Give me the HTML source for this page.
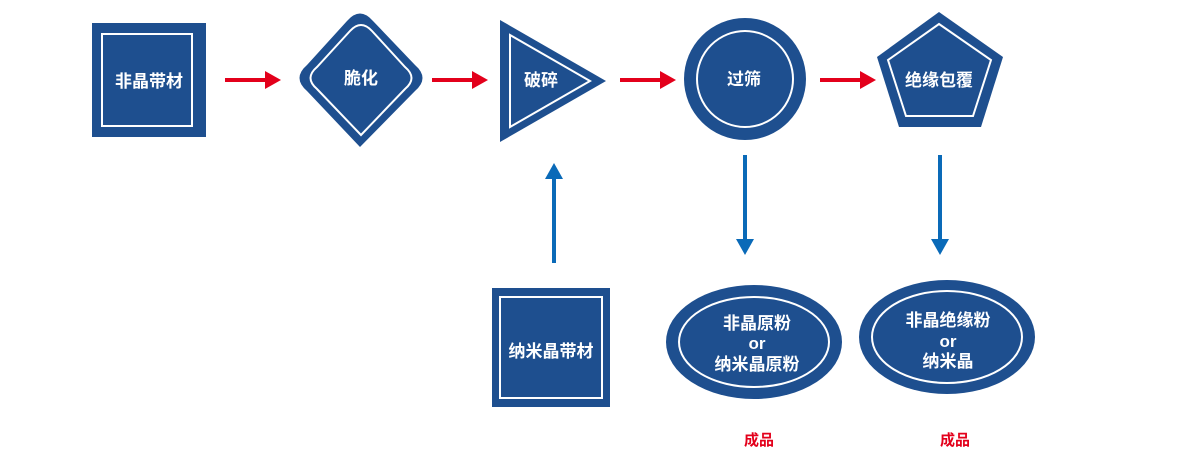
<!DOCTYPE html>
<html><head><meta charset="utf-8"><style>
html,body{margin:0;padding:0;background:#fff;}
svg{display:block;}
text{font-family:"Liberation Sans","Noto Sans CJK SC",sans-serif;font-weight:bold;}
</style></head><body>
<svg width="1200" height="467" viewBox="0 0 1200 467" xmlns="http://www.w3.org/2000/svg">
<g fill="#1e4f8f">
<rect x="92" y="23" width="114" height="114"/>
<path d="M347,21 Q360,6 373,21 L415,65 Q430,78 415,91 L360,147 L307,91 Q292,78 307,65 Z"/>
<polygon points="500,20 500,142 606,81"/>
<circle cx="745" cy="79" r="61"/>
<polygon points="939,12 1003,57 981,127 899,127 877,57"/>
<rect x="492" y="288" width="118" height="119"/>
<ellipse cx="754" cy="342" rx="88" ry="57"/>
<ellipse cx="947" cy="337" rx="88" ry="57"/>
</g>
<g fill="none" stroke="#fff" stroke-width="2">
<rect x="102" y="34" width="90" height="92"/>
<path d="M350,31 Q361,19 372,31 L405,67 Q418,78 405,89 L361,135 L317,89 Q304,78 317,67 Z"/>
<polygon points="510,35 510,127 590,81"/>
<circle cx="745" cy="79" r="48"/>
<polygon points="939,24 991,60 973,116 906,116 888,60"/>
<rect x="500" y="297" width="102" height="101"/>
<ellipse cx="754" cy="342" rx="75" ry="45"/>
<ellipse cx="947" cy="337" rx="75" ry="46"/>
</g>
<g fill="#e3001b">
<rect x="225" y="78" width="42" height="4"/><polygon points="265,71 281,80 265,89"/>
<rect x="432" y="78" width="42" height="4"/><polygon points="472,71 488,80 472,89"/>
<rect x="620" y="78" width="42" height="4"/><polygon points="660,71 676,80 660,89"/>
<rect x="820" y="78" width="42" height="4"/><polygon points="860,71 876,80 860,89"/>
</g>
<g fill="#0a6ab8">
<rect x="552" y="176" width="4" height="87"/><polygon points="545,179 554,163 563,179"/>
<rect x="743" y="155" width="4" height="86"/><polygon points="736,239 745,255 754,239"/>
<rect x="938" y="155" width="4" height="86"/><polygon points="931,239 940,255 949,239"/>
</g>
<g fill="#fff" font-size="17" text-anchor="middle">
<text x="149" y="87">非晶带材</text>
<text x="361" y="84">脆化</text>
<text x="541" y="86">破碎</text>
<text x="744" y="85">过筛</text>
<text x="939" y="86">绝缘包覆</text>
<text x="551" y="357">纳米晶带材</text>
<text x="757" y="329">非晶原粉</text>
<text x="757" y="349">or</text>
<text x="757" y="370">纳米晶原粉</text>
<text x="948" y="326">非晶绝缘粉</text>
<text x="948" y="347">or</text>
<text x="948" y="367">纳米晶</text>
</g>
<g fill="#e3001b" font-size="15" text-anchor="middle">
<text x="759" y="445">成品</text>
<text x="955" y="445">成品</text>
</g>
</svg>
</body></html>
